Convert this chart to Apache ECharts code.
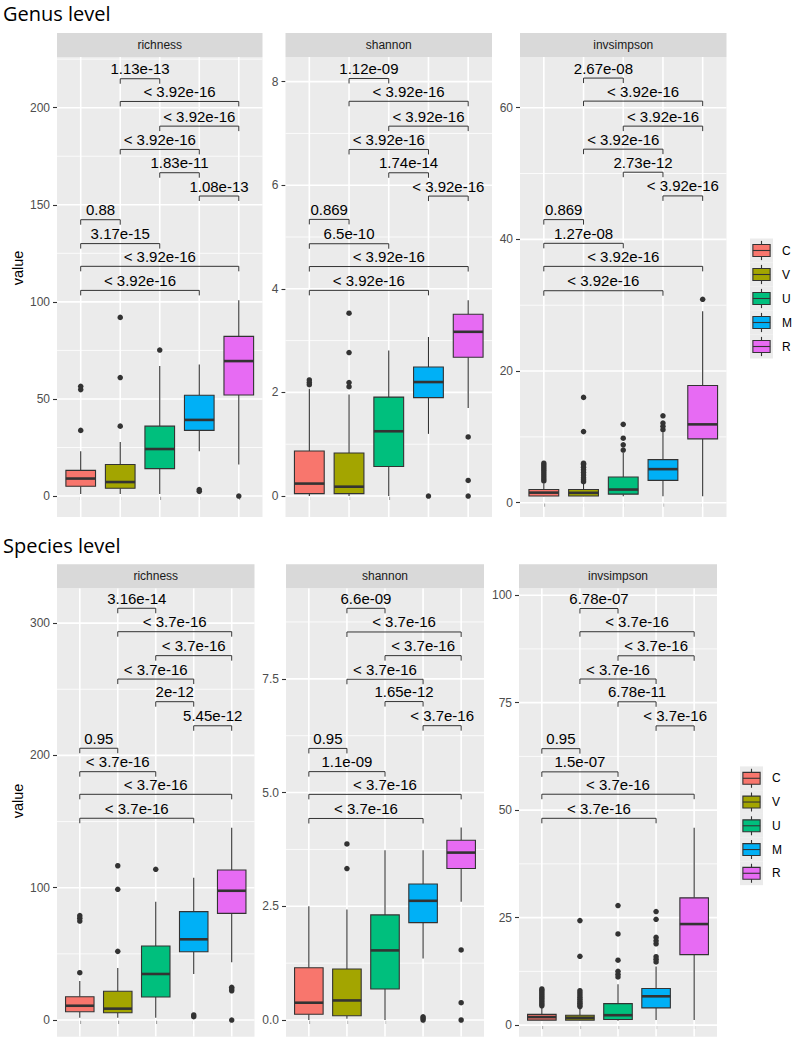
<!DOCTYPE html>
<html>
<head>
<meta charset="utf-8">
<script src="https://cdn.jsdelivr.net/npm/echarts@6/dist/echarts.min.js"></script>
<style>
  html, body { margin: 0; padding: 0; background: #fff; }
  #chart { width: 796px; height: 1047px; }
</style>
</head>
<body>
<div id="chart"></div>
<script>
// groups and their fill colours
const groups = ['C', 'V', 'U', 'M', 'R']
const groupColors = ['#F8766D', '#A3A500', '#00BF7D', '#00B0F6', '#E76BF3']

// box stats per group: [lower whisker, q1, median, q3, upper whisker]
const genusRichnessBox = [[1, 5, 9, 13.2, 23], [1, 4, 7.2, 16.2, 27.8], [1, 14.1, 24.2, 36, 67], [23, 33.8, 39.2, 51.9, 67.8], [16.2, 52, 69.5, 82.2, 100.8]]
const genusShannonBox = [[0, 0.046, 0.24, 0.87, 2.07], [0, 0.046, 0.18, 0.83, 1.96], [0, 0.57, 1.25, 1.91, 2.81], [1.2, 1.9, 2.2, 2.49, 3.07], [1.7, 2.68, 3.17, 3.51, 3.78]]
const genusInvsimpsonBox = [[1, 1.02, 1.53, 2.0, 2.9], [1, 1.02, 1.5, 2.0, 2.9], [1, 1.3, 2.0, 3.9, 7.6], [1, 3.4, 5.1, 6.55, 10.7], [1, 9.7, 11.9, 17.8, 29.1]]
const speciesRichnessBox = [[1.8, 6.3, 10.8, 17.6, 29.5], [1.8, 5.5, 8.6, 21.7, 39.3], [1.8, 17.4, 34.8, 55.9, 89.4], [34.8, 51.6, 61, 81.9, 107.6], [43.6, 80.6, 97.7, 113.4, 145.4]]
const speciesShannonBox = [[0, 0.125, 0.38, 1.15, 2.5], [0.03, 0.095, 0.43, 1.12, 2.43], [0, 0.68, 1.53, 2.31, 3.73], [1.35, 2.14, 2.62, 2.99, 3.73], [2.6, 3.33, 3.68, 3.95, 4.23]]
const speciesInvsimpsonBox = [[1.1, 1.16, 1.86, 2.5, 4.1], [1.1, 1.16, 1.7, 2.3, 3.8], [1, 1.3, 2.3, 5.0, 9.5], [1.16, 4.0, 6.7, 8.5, 13.6], [1.2, 16.4, 23.5, 29.6, 45.9]]

// outliers per group
const genusRichnessOut = [[33.8, 54.8, 56.5], [36, 61, 92], [75.2], [2.4, 3.3], [0]]
const genusShannonOut = [[2.15, 2.19, 2.24], [2.11, 2.19, 2.77, 3.53], [], [0], [0, 0.3, 1.14]]
const genusInvsimpsonOut = [[3.3, 3.6, 3.9, 4.2, 4.5, 4.8, 5.1, 5.4, 5.7, 6.0], [3.2, 3.5, 3.8, 4.2, 4.6, 5.0, 5.4, 5.8, 6.0, 10.8, 16.0], [8.0, 8.8, 9.8, 11.9], [11.1, 11.6, 12.1, 13.2], [30.9]]
const speciesRichnessOut = [[35.8, 74.8, 77, 78.9], [51.9, 98.8, 116.6], [113.9], [2.5, 3.8], [0, 22.1, 23.4, 24.7]]
const speciesShannonOut = [[], [3.33, 3.87], [], [0, 0.04, 0.07], [0, 0.38, 1.54]]
const speciesInvsimpsonOut = [[4.5, 4.9, 5.3, 5.7, 6.1, 6.5, 6.9, 7.3, 7.7, 8.1, 8.4], [4.3, 4.7, 5.1, 5.5, 6.0, 6.5, 7.0, 7.5, 8.0, 16.0, 24.3], [11.2, 11.8, 12.5, 15.1, 21.2, 27.8], [14.7, 15.3, 15.9, 18.9, 19.6, 20.4, 24.6, 26.4], []]

// comparisons (same order in every panel), their heights and p labels
const pairs = [['V', 'U'], ['V', 'R'], ['U', 'R'], ['V', 'M'], ['U', 'M'], ['M', 'R'], ['C', 'V'], ['C', 'U'], ['C', 'R'], ['C', 'M']]
const genusRichnessSigY = [214.9, 203.2, 190.5, 178.5, 166.5, 154.5, 142.3, 130.0, 118.3, 105.9]
const genusShannonSigY = [8.06, 7.62, 7.14, 6.69, 6.24, 5.79, 5.34, 4.87, 4.43, 3.97]
const genusInvsimpsonSigY = [64.5, 61.0, 57.2, 53.7, 50.2, 46.6, 43.0, 39.4, 35.9, 32.2]
const speciesRichnessSigY = [311.2, 293.5, 275.4, 257.7, 240.6, 222.4, 205.4, 187.7, 170.6, 152.5]
const speciesShannonSigY = [9.05, 8.53, 8.01, 7.49, 7.0, 6.47, 5.97, 5.46, 4.96, 4.43]
const speciesInvsimpsonSigY = [96.9, 91.5, 85.9, 80.5, 75.2, 69.6, 64.3, 58.9, 53.7, 48.1]
const genusRichnessP = ['1.13e-13', '< 3.92e-16', '< 3.92e-16', '< 3.92e-16', '1.83e-11', '1.08e-13', '0.88', '3.17e-15', '< 3.92e-16', '< 3.92e-16']
const genusShannonP = ['1.12e-09', '< 3.92e-16', '< 3.92e-16', '< 3.92e-16', '1.74e-14', '< 3.92e-16', '0.869', '6.5e-10', '< 3.92e-16', '< 3.92e-16']
const genusInvsimpsonP = ['2.67e-08', '< 3.92e-16', '< 3.92e-16', '< 3.92e-16', '2.73e-12', '< 3.92e-16', '0.869', '1.27e-08', '< 3.92e-16', '< 3.92e-16']
const speciesRichnessP = ['3.16e-14', '< 3.7e-16', '< 3.7e-16', '< 3.7e-16', '2e-12', '5.45e-12', '0.95', '< 3.7e-16', '< 3.7e-16', '< 3.7e-16']
const speciesShannonP = ['6.6e-09', '< 3.7e-16', '< 3.7e-16', '< 3.7e-16', '1.65e-12', '< 3.7e-16', '0.95', '1.1e-09', '< 3.7e-16', '< 3.7e-16']
const speciesInvsimpsonP = ['6.78e-07', '< 3.7e-16', '< 3.7e-16', '< 3.7e-16', '6.78e-11', '< 3.7e-16', '0.95', '1.5e-07', '< 3.7e-16', '< 3.7e-16']

// axis ticks (major) and minor grid lines
const genusRichnessTicks = [0, 50, 100, 150, 200]
const genusShannonTicks = [0, 2, 4, 6, 8]
const genusInvsimpsonTicks = [0, 20, 40, 60]
const speciesRichnessTicks = [0, 100, 200, 300]
const speciesShannonTicks = [0, 2.5, 5, 7.5]
const speciesInvsimpsonTicks = [0, 25, 50, 75, 100]
const genusRichnessMinor = [25, 75, 125, 175, 225]
const genusShannonMinor = [1, 3, 5, 7]
const genusInvsimpsonMinor = [10, 30, 50]
const speciesRichnessMinor = [50, 150, 250]
const speciesShannonMinor = [1.25, 3.75, 6.25, 8.75]
const speciesInvsimpsonMinor = [12.5, 37.5, 62.5, 87.5]

const FONT = '"Liberation Sans", Arial, sans-serif'

const panels = [
  { name: 'richness', box: genusRichnessBox, out: genusRichnessOut, sigY: genusRichnessSigY, sig: genusRichnessP, ticks: genusRichnessTicks, minor: genusRichnessMinor, min: -10.8, max: 226.1, rect: [57, 57, 205.5, 460] },
  { name: 'shannon', box: genusShannonBox, out: genusShannonOut, sigY: genusShannonSigY, sig: genusShannonP, ticks: genusShannonTicks, minor: genusShannonMinor, min: -0.405, max: 8.475, rect: [285.5, 57, 206.5, 460] },
  { name: 'invsimpson', box: genusInvsimpsonBox, out: genusInvsimpsonOut, sigY: genusInvsimpsonSigY, sig: genusInvsimpsonP, ticks: genusInvsimpsonTicks, minor: genusInvsimpsonMinor, min: -2.17, max: 67.7, rect: [520, 57, 206.5, 460] },
  { name: 'richness', box: speciesRichnessBox, out: speciesRichnessOut, sigY: speciesRichnessSigY, sig: speciesRichnessP, ticks: speciesRichnessTicks, minor: speciesRichnessMinor, min: -12.6, max: 326.3, rect: [57, 588.3, 197.5, 448.4] },
  { name: 'shannon', box: speciesShannonBox, out: speciesShannonOut, sigY: speciesShannonSigY, sig: speciesShannonP, ticks: speciesShannonTicks, minor: speciesShannonMinor, min: -0.367, max: 9.49, rect: [286, 588.3, 198, 448.4], fmt: v => v.toFixed(1) },
  { name: 'invsimpson', box: speciesInvsimpsonBox, out: speciesInvsimpsonOut, sigY: speciesInvsimpsonSigY, sig: speciesInvsimpsonP, ticks: speciesInvsimpsonTicks, minor: speciesInvsimpsonMinor, min: -2.7, max: 101.6, rect: [519, 588.3, 198, 448.4] }
]

const grids = []
const xAxes = []
const yAxes = []
const series = []
const graphics = []

function gridRender(params, api) {
  const cs = params.coordSys
  const kind = api.value(0)
  const v = api.value(1)
  if (kind === 2) {
    const x = api.coord([v, 0])[0]
    return { type: 'line', shape: { x1: x, y1: cs.y, x2: x, y2: cs.y + cs.height }, style: { stroke: '#fff', lineWidth: 1.6 } }
  }
  const y = api.coord([1, v])[1]
  return { type: 'line', shape: { x1: cs.x, y1: y, x2: cs.x + cs.width, y2: y }, style: { stroke: '#fff', lineWidth: kind === 0 ? 1.6 : 0.8 } }
}

function boxRender(params, api) {
  const x = api.value(0)
  const lo = api.value(1), q1 = api.value(2), md = api.value(3), q3 = api.value(4), hi = api.value(5)
  const tl = api.coord([x - 0.375, q3])
  const br = api.coord([x + 0.375, q1])
  const cx = api.coord([x, md])[0]
  const my = api.coord([x, md])[1]
  const ln = { stroke: '#333333', lineWidth: 1.1 }
  return {
    type: 'group',
    children: [
      { type: 'line', shape: { x1: cx, y1: api.coord([x, hi])[1], x2: cx, y2: tl[1] }, style: ln },
      { type: 'line', shape: { x1: cx, y1: br[1], x2: cx, y2: api.coord([x, lo])[1] }, style: ln },
      { type: 'rect', shape: { x: tl[0], y: tl[1], width: br[0] - tl[0], height: br[1] - tl[1] }, style: { fill: groupColors[x - 1], stroke: '#333333', lineWidth: 1.1 } },
      { type: 'line', shape: { x1: tl[0], y1: my, x2: br[0], y2: my }, style: { stroke: '#333333', lineWidth: 2.6 } }
    ]
  }
}

function makeSigRender(labels) {
  return function (params, api) {
    const x1 = api.value(0), x2 = api.value(1), yv = api.value(2)
    const a = api.coord([x1, yv])
    const b = api.coord([x2, yv])
    const tip = 5
    return {
      type: 'group',
      children: [
        { type: 'polyline', shape: { points: [[a[0], a[1] + tip], a, b, [b[0], b[1] + tip]] }, style: { stroke: '#333333', lineWidth: 1, fill: null } },
        { type: 'text', x: (a[0] + b[0]) / 2, y: a[1] - 10, style: { text: labels[params.dataIndex], fill: '#000', fontSize: 15, fontFamily: FONT, align: 'center', verticalAlign: 'middle', textAlign: 'center', textVerticalAlign: 'middle' } }
      ]
    }
  }
}

panels.forEach((p, i) => {
  const [left, top, width, height] = p.rect
  grids.push({ left: left, top: top, width: width, height: height, show: true, backgroundColor: '#EBEBEB', borderWidth: 0, outerBoundsMode: 'none' })
  xAxes.push({
    gridIndex: i, type: 'value', min: 0.4, max: 5.6,
    axisLine: { show: false },
    axisTick: { show: true, length: 4, customValues: [1, 2, 3, 4, 5], lineStyle: { color: '#333333', width: 1.1 } },
    axisLabel: { show: false },
    splitLine: { show: false }
  })
  yAxes.push({
    gridIndex: i, type: 'value', min: p.min, max: p.max,
    axisLine: { show: false },
    axisTick: { show: true, length: 4, customValues: p.ticks, lineStyle: { color: '#333333', width: 1.1 } },
    axisLabel: { customValues: p.ticks, color: '#4D4D4D', fontSize: 12, fontFamily: FONT, margin: 7, formatter: p.fmt || (v => String(v)) },
    splitLine: { show: false }
  })

  const lines = p.ticks.map(v => [0, v]).concat(p.minor.map(v => [1, v])).concat(groups.map((g, k) => [2, k + 1]))
  series.push({ type: 'custom', xAxisIndex: i, yAxisIndex: i, z: 1, silent: true, clip: true, renderItem: gridRender, data: lines })

  series.push({ type: 'custom', xAxisIndex: i, yAxisIndex: i, z: 3, silent: true, renderItem: boxRender, data: p.box.map((s, k) => [k + 1].concat(s)) })

  const pts = []
  p.out.forEach((arr, k) => arr.forEach(v => pts.push([k + 1, v])))
  series.push({ type: 'scatter', xAxisIndex: i, yAxisIndex: i, z: 4, silent: true, symbolSize: 5.5, itemStyle: { color: '#333333', opacity: 1 }, data: pts })

  const sigData = pairs.map((pr, k) => [groups.indexOf(pr[0]) + 1, groups.indexOf(pr[1]) + 1, p.sigY[k]])
  series.push({ type: 'custom', xAxisIndex: i, yAxisIndex: i, z: 5, silent: true, clip: false, renderItem: makeSigRender(p.sig), data: sigData })

  // facet strip
  graphics.push({ type: 'rect', shape: { x: left, y: top - 24, width: width, height: 24 }, style: { fill: '#D9D9D9' }, silent: true })
  graphics.push({ type: 'text', x: left + width / 2, y: top - 12, style: { text: p.name, fill: '#1A1A1A', fontSize: 12, fontFamily: FONT, align: 'center', verticalAlign: 'middle', textAlign: 'center', textVerticalAlign: 'middle' } })
})

// section titles and axis titles
graphics.push({ type: 'text', x: 3, y: 13.5, style: { text: 'Genus level', fill: '#000', fontSize: 20, fontFamily: '"Open Sans", "Noto Sans", sans-serif', verticalAlign: 'middle', textVerticalAlign: 'middle' } })
graphics.push({ type: 'text', x: 3, y: 545, style: { text: 'Species level', fill: '#000', fontSize: 20, fontFamily: '"Open Sans", "Noto Sans", sans-serif', verticalAlign: 'middle', textVerticalAlign: 'middle' } })
graphics.push({ type: 'text', x: 18, y: 268, rotation: Math.PI / 2, style: { text: 'value', fill: '#000', fontSize: 14.5, fontFamily: FONT, align: 'center', verticalAlign: 'middle', textAlign: 'center', textVerticalAlign: 'middle' } })
graphics.push({ type: 'text', x: 18, y: 801, rotation: Math.PI / 2, style: { text: 'value', fill: '#000', fontSize: 14.5, fontFamily: FONT, align: 'center', verticalAlign: 'middle', textAlign: 'center', textVerticalAlign: 'middle' } })

// legends
function addLegend(keyX, keyTop, keyW, keyH, labelX) {
  groups.forEach((g, k) => {
    const y0 = keyTop + k * keyH
    const cx = keyX + keyW / 2
    graphics.push({ type: 'rect', shape: { x: keyX, y: y0, width: keyW, height: keyH }, style: { fill: '#EBEBEB' }, silent: true })
    graphics.push({ type: 'line', shape: { x1: cx, y1: y0 + keyH * 0.1, x2: cx, y2: y0 + keyH * 0.9 }, style: { stroke: '#333333', lineWidth: 1.1 } })
    graphics.push({ type: 'rect', shape: { x: keyX + keyW * 0.125, y: y0 + keyH * 0.25, width: keyW * 0.75, height: keyH * 0.5 }, style: { fill: groupColors[k], stroke: '#333333', lineWidth: 1.1 } })
    graphics.push({ type: 'line', shape: { x1: keyX + keyW * 0.125, y1: y0 + keyH / 2, x2: keyX + keyW * 0.875, y2: y0 + keyH / 2 }, style: { stroke: '#333333', lineWidth: 1.1 } })
    graphics.push({ type: 'text', x: labelX, y: y0 + keyH / 2, style: { text: g, fill: '#000', fontSize: 12, fontFamily: FONT, verticalAlign: 'middle', textVerticalAlign: 'middle' } })
  })
}
addLegend(750, 238.5, 23, 24, 782)
addLegend(740, 766.4, 23, 23.75, 772)

const myChart = echarts.init(document.getElementById('chart'), null, { renderer: 'svg' })
myChart.setOption({
  animation: false,
  grid: grids,
  xAxis: xAxes,
  yAxis: yAxes,
  series: series,
  graphic: graphics
})
</script>
</body>
</html>
